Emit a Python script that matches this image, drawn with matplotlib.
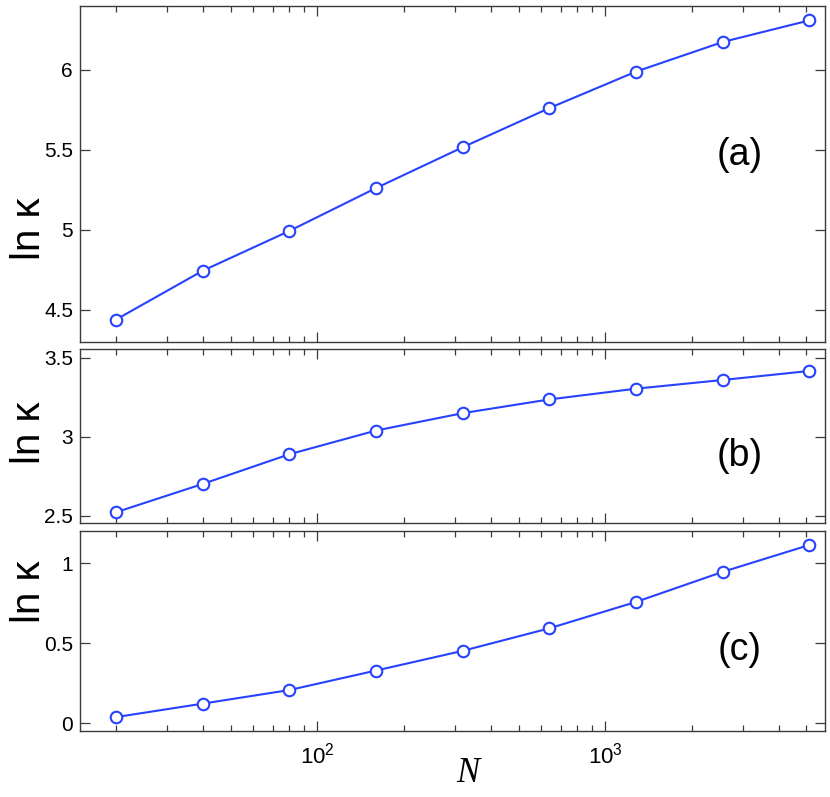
import matplotlib
matplotlib.use('Agg')
import matplotlib.pyplot as plt
from matplotlib import ticker

plt.rcParams['font.family'] = ['Liberation Sans', 'DejaVu Sans']
plt.rcParams['mathtext.default'] = 'regular'

# system sizes
N = [20, 40, 80, 160, 320, 640, 1280, 2560, 5120]

# ln(kappa) for the three cases
lnk_a = [4.44, 4.745, 4.994, 5.262, 5.517, 5.762, 5.99, 6.175, 6.31]
lnk_b = [2.523, 2.702, 2.89, 3.04, 3.15, 3.237, 3.305, 3.36, 3.417]
lnk_c = [0.037, 0.121, 0.206, 0.328, 0.451, 0.592, 0.757, 0.945, 1.113]

panel_names = ['(a)', '(b)', '(c)']
ylims = [(4.3, 6.4), (2.455, 3.556), (-0.05, 1.2)]
yticks = [[4.5, 5, 5.5, 6], [2.5, 3, 3.5], [0, 0.5, 1]]
yticklabels = [['4.5', '5', '5.5', '6'], ['2.5', '3', '3.5'], ['0', '0.5', '1']]

line_col = '#2742ff'
spine_col = '#3a3a3a'

fig = plt.figure(figsize=(8.3, 7.97), dpi=100)
# [left, bottom, width, height] in figure fraction
rects = [[0.0964, 0.5709, 0.8976, 0.4216],
         [0.0964, 0.3438, 0.8976, 0.2183],
         [0.0964, 0.0828, 0.8976, 0.2509]]
label_y = [0.336, 0.517, 0.695]
name_y = [0.557, 0.385, 0.405]

axes = []
for i, data in enumerate([lnk_a, lnk_b, lnk_c]):
    ax = fig.add_axes(rects[i])
    ax.plot(N, data, '-o', color=line_col, lw=1.5, ms=8.3,
            mfc='white', mec=line_col, mew=1.5)
    ax.set_xscale('log')
    ax.set_xlim(15, 5800)
    ax.set_ylim(*ylims[i])
    ax.set_yticks(yticks[i])
    ax.set_yticklabels(yticklabels[i])
    ax.xaxis.set_major_locator(ticker.FixedLocator([100, 1000]))
    ax.xaxis.set_minor_locator(ticker.LogLocator(base=10, subs=range(2, 10)))
    ax.xaxis.set_minor_formatter(ticker.NullFormatter())
    ax.tick_params(which='both', direction='in', top=True, right=True,
                   colors=spine_col, labelcolor='black', width=0.9)
    ax.tick_params(which='major', length=7, labelsize=15)
    ax.tick_params(which='minor', length=4)
    ax.tick_params(axis='y', pad=5)
    ax.tick_params(axis='x', pad=8, labelsize=16)
    for s in ax.spines.values():
        s.set_color(spine_col)
        s.set_linewidth(1.0)
    ax.set_ylabel('ln κ', fontsize=29, va='center')
    ax.yaxis.set_label_coords(-0.068, label_y[i])
    ax.text(0.886, name_y[i], panel_names[i], transform=ax.transAxes,
            fontsize=27, ha='center', va='center')
    if i < 2:
        ax.set_xticklabels([])
    else:
        ax.set_xticklabels(['$10^{2}$', '$10^{3}$'])
    axes.append(ax)

axes[2].set_xlabel('N', fontsize=25, family='Liberation Serif', style='italic',
                   va='center')
axes[2].xaxis.set_label_coords(0.521, -0.21)

fig.savefig('out.png', dpi=100)
